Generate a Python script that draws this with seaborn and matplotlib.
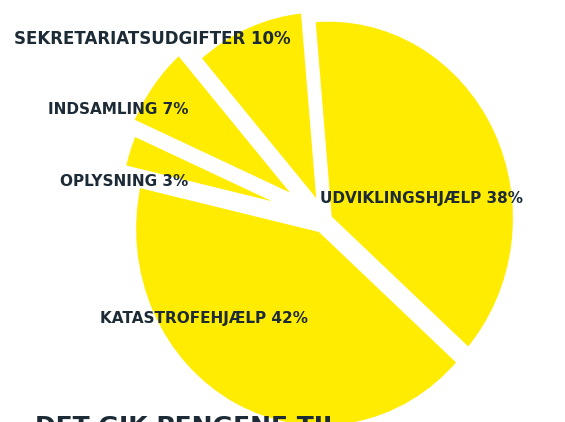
import matplotlib.pyplot as plt
import seaborn as sns

# data
labels = ['UDVIKLINGSHJÆLP', 'KATASTROFEHJÆLP', 'OPLYSNING', 'INDSAMLING', 'SEKRETARIATSUDGIFTER']
shares = [38, 42, 3, 7, 10]
title = 'DET GIK PENGENE TIL'

# how far each slice is pulled out
explode = [0.02, 0.05, 0.11, 0.15, 0.06]

# label anchor (left edge, vertical centre) in pixels of the 565x422 image
label_px = [(320, 198), (100, 318), (60, 181), (48, 109), (14, 39)]
label_size = [11, 11, 11, 11, 12]

yellow = '#FFEC00'
ink = '#1c2b36'
W, H = 565, 422
cx, cy, rx, ry = 325, 220, 188, 200  # pie centre and radii in pixels

sns.set_theme(style='white')
plt.rcParams['font.family'] = ['DejaVu Sans']

fig = plt.figure(figsize=(W / 100, H / 100), dpi=100)
ax = fig.add_axes([0, 0, 1, 1])
ax.pie(shares, startangle=95, counterclock=False, colors=[yellow] * len(shares),
       radius=1, explode=explode,
       wedgeprops=dict(edgecolor='white', linewidth=5))
# the scanned pie is slightly taller than wide
ax.set_aspect('auto')
ax.set_xlim(-cx / rx, (W - cx) / rx)
ax.set_ylim(-(H - cy) / ry, cy / ry)
ax.axis('off')

for lab, val, (px, py), fs in zip(labels, shares, label_px, label_size):
    fig.text(px / W, 1 - py / H, f'{lab} {val}%', ha='left', va='center',
             fontsize=fs, fontweight='bold', color=ink)

# heading below the chart, cut off by the bottom edge as in the scan
fig.text(35 / W, 1 - 415 / H, title, ha='left', va='top',
         fontsize=18, fontweight='bold', color=ink)

fig.savefig('out.png', dpi=100)
